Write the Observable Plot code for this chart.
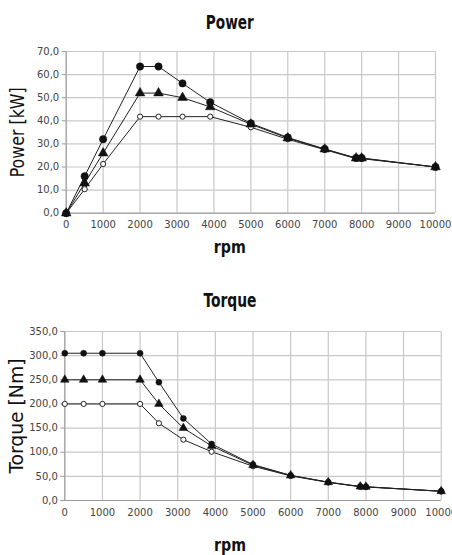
<!DOCTYPE html>
<html>
<head>
<meta charset="utf-8">
<script src="https://cdn.jsdelivr.net/npm/d3@7"></script>
<script src="https://cdn.jsdelivr.net/npm/@observablehq/plot@0.6"></script>
<style>
  body { margin: 0; background: #fff; }
  #wrap { position: relative; width: 452px; height: 555px; overflow: hidden; background: #fff; }
  .chart { position: absolute; left: 0; }
</style>
</head>
<body>
<div id="wrap">
  <div class="chart" id="power" style="top:0px"></div>
  <div class="chart" id="torque" style="top:260px"></div>
</div>
<script>
const rpm = [0, 500, 1000, 2000, 2500, 3150, 3900, 5000, 6000, 7000, 7850, 8000, 10000];
const powerHigh = [0, 16, 32, 63.5, 63.5, 56.2, 48, 38.9, 32.8, 27.8, 23.9, 23.9, 20];
const powerMid  = [0, 13, 26, 52, 52, 50, 46, 38.5, 32.5, 27.7, 23.8, 23.8, 20];
const powerLow  = [0, 10.4, 21.3, 41.8, 41.8, 41.8, 41.8, 37.2, 32, 27.5, 23.6, 23.6, 20];
const torqueHigh = [305, 305, 305, 305, 245, 170, 117, 74.5, 52, 38, 29, 28.5, 19.3];
const torqueMid  = [250, 250, 250, 250, 200, 150, 113, 73, 52, 37.8, 28.8, 28.3, 19.2];
const torqueLow  = [200, 200, 200, 200, 160, 126, 101, 71, 51, 37.5, 28.5, 28, 19];
const xTicks = [0, 1000, 2000, 3000, 4000, 5000, 6000, 7000, 8000, 9000, 10000];
const powerTicks = [0, 10, 20, 30, 40, 50, 60, 70];
const torqueTicks = [0, 50, 100, 150, 200, 250, 300, 350];

const comma = d => d.toFixed(1).replace(".", ",");
const labelFont = "DejaVu Sans, sans-serif";

function rows(values, series) {
  return rpm.map((r, i) => ({rpm: r, value: values[i], series}));
}

function squeeze(svg, widths) {
  d3.select(svg).selectAll("text").each(function() {
    const w = widths[this.textContent];
    if (w) {
      this.setAttribute("textLength", w);
      this.setAttribute("lengthAdjust", "spacingAndGlyphs");
      this.style.fontStretch = "condensed";
    }
  });
  return svg;
}

function chart(opts) {
  const high = rows(opts.high, "high");
  const mid = rows(opts.mid, "mid");
  const low = rows(opts.low, "low");
  const all = [...high, ...mid, ...low];
  const svg = Plot.plot({
    width: 452,
    height: opts.height,
    marginLeft: opts.marginLeft,
    marginRight: opts.marginRight,
    marginTop: opts.marginTop,
    marginBottom: opts.marginBottom,
    style: {fontFamily: "DejaVu Sans", fontSize: "10px", color: "#444", background: "transparent", overflow: "visible"},
    x: {domain: [0, 10000]},
    y: {domain: [0, opts.yMax]},
    marks: [
      Plot.gridX(xTicks, {stroke: "#c8c8c8", strokeOpacity: 1, strokeWidth: 1.2}),
      Plot.gridY(opts.yTicks, {stroke: "#c8c8c8", strokeOpacity: 1, strokeWidth: 1.2}),
      Plot.ruleX([0], {stroke: "#999"}),
      Plot.ruleY([0], {stroke: "#999"}),
      Plot.axisY(opts.yTicks, {tickFormat: comma, tickSize: 4, tickPadding: 3, stroke: "#999", fill: "#444", label: null}),
      Plot.axisX(xTicks, {tickFormat: d => String(d), tickSize: 0, tickPadding: 8, fill: "#444", label: null}),
      Plot.line(all, {x: "rpm", y: "value", z: "series", stroke: "#222", strokeWidth: 1}),
      Plot.dot(low, {x: "rpm", y: "value", symbol: "circle", r: opts.rLow, fill: "white", stroke: "#222", strokeWidth: 1}),
      Plot.dot(mid, {x: "rpm", y: "value", symbol: "triangle", r: opts.rMid, fill: "#111", stroke: "#111", strokeWidth: 0.5}),
      Plot.dot(high, {x: "rpm", y: "value", symbol: "circle", r: opts.rHigh, fill: "#111", stroke: "#111", strokeWidth: 0.5}),
      Plot.text([opts.title], {text: d => d, frameAnchor: "top", textAnchor: "middle", lineAnchor: "middle", dx: opts.centerDx, dy: opts.titleDy, fontSize: 19, fontWeight: "bold", fontFamily: labelFont, fill: "#111"}),
      Plot.text([opts.yLabel], {text: d => d, frameAnchor: "left", textAnchor: "middle", lineAnchor: "middle", dx: opts.yLabelDx, rotate: -90, fontSize: 20, fontFamily: labelFont, fill: "#111"}),
      Plot.text(["rpm"], {text: d => d, frameAnchor: "bottom", textAnchor: "middle", lineAnchor: "middle", dx: opts.centerDx, dy: opts.xLabelDy, fontSize: 18, fontWeight: "bold", fontFamily: labelFont, fill: "#111"})
    ]
  });
  return squeeze(svg, opts.widths);
}

document.getElementById("power").append(chart({
  high: powerHigh, mid: powerMid, low: powerLow,
  yMax: 70, yTicks: powerTicks, height: 260,
  marginLeft: 65.7, marginRight: 17, marginTop: 51, marginBottom: 47.3,
  rHigh: 3.7, rMid: 3.6, rLow: 2.6,
  title: "Power", titleDy: -29, centerDx: -21,
  yLabel: "Power [kW]", yLabelDx: -49, xLabelDy: 34,
  widths: {"Power": 48, "Power [kW]": 90, "rpm": 32}
}));

document.getElementById("torque").append(chart({
  high: torqueHigh, mid: torqueMid, low: torqueLow,
  yMax: 350, yTicks: torqueTicks, height: 295,
  marginLeft: 64.3, marginRight: 11.3, marginTop: 71, marginBottom: 55,
  rHigh: 3, rMid: 3.2, rLow: 2.6,
  title: "Torque", titleDy: -31, centerDx: -23,
  yLabel: "Torque [Nm]", yLabelDx: -48, xLabelDy: 45,
  widths: {"Torque": 53, "Torque [Nm]": 115, "rpm": 32}
}));
</script>
</body>
</html>
